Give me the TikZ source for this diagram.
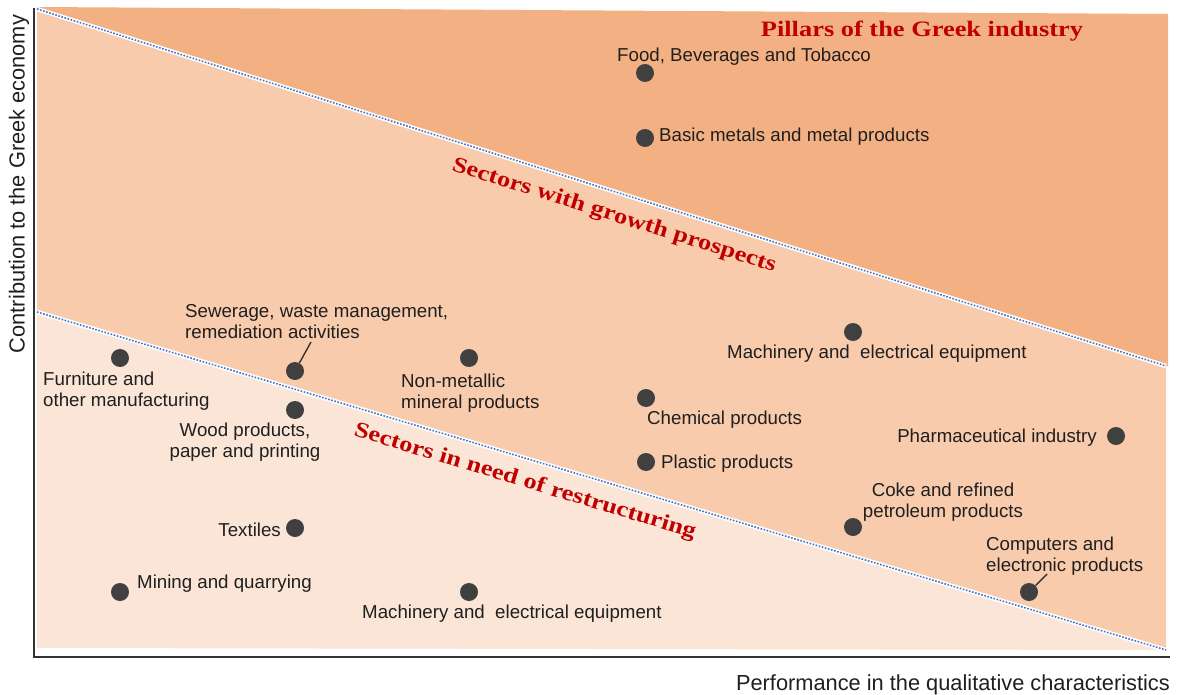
\documentclass[tikz,border=0pt]{standalone}
\usepackage{fontspec}
\setmainfont{Liberation Sans}
\newfontfamily\titleserif[FakeStretch=1.2]{Liberation Serif}

\definecolor{pillarband}{HTML}{F3B183}
\definecolor{growthband}{HTML}{F8CBAD}
\definecolor{restructband}{HTML}{FBE5D6}
\definecolor{zonered}{HTML}{C00000}
\definecolor{divblue}{HTML}{4472C4}
\definecolor{dotgray}{HTML}{404040}

\begin{document}
\begin{tikzpicture}[
    x=1pt, y=-1pt,
    sector/.style={circle, fill=dotgray, minimum size=18pt, inner sep=0pt},
    lbl/.style={inner sep=0pt, text=black!88, font=\fontsize{18.7}{21}\selectfont, align=left},
    zone/.style={inner sep=0pt, text=zonered, font=\titleserif\bfseries\fontsize{22}{26}\selectfont},
    axislbl/.style={inner sep=0pt, text=black!88, font=\fontsize{21.8}{25}\selectfont},
    divider/.style={white, line width=4.5pt},
    dividerdots/.style={divblue, line width=1.6pt, dash pattern=on 1.6pt off 1.6pt},
    leader/.style={black!80, line width=1.4pt} % kurze Verbindungslinie
]
\useasboundingbox (0,0) rectangle (1177,695);

% Eckpunkte der Zonen
\coordinate (tl) at (37,7);
\coordinate (tr) at (1168,14);
\coordinate (ul) at (37,9);
\coordinate (ur) at (1166,366);
\coordinate (ll) at (37,312);
\coordinate (lr) at (1166,650);
\coordinate (bl) at (37,648);

% Zonen
\fill[pillarband] (tl) -- (tr) -- (1168,366) -- (ur) -- (ul) -- cycle;
\fill[growthband] (ul) -- (ur) -- (lr) -- (ll) -- cycle;
\fill[restructband] (ll) -- (lr) -- (bl) -- cycle;

% Trennlinien (weiss mit blauen Punkten)
\draw[divider] (ul) -- (ur);
\draw[dividerdots] (ul) -- (ur);
\draw[divider] (ll) -- (lr);
\draw[dividerdots] (ll) -- (lr);

% Achsen
\draw[black!80, line width=1.5pt] (34,8) -- (34,657) -- (1170,657);

% Sektoren
\foreach \name/\px/\py in {food/645/73, basic/645/138, machup/853/332,
    pharma/1116/436, comp/1029/592, coke/853/527, plastic/646/462,
    chem/646/398, nonmet/469/358, sewer/295/371, wood/295/410,
    furn/120/358, textiles/295/528, mining/120/592, machlow/469/592} {
    \node[sector] (\name) at (\px,\py) {};
}

% Beschriftungen
\node[lbl, anchor=west] (foodlbl) at (617,57) {Food, Beverages and Tobacco};
\node[lbl, anchor=west] (basiclbl) at (659,137) {Basic metals and metal products};
\node[lbl, anchor=west] (machuplbl) at (727,354) {Machinery and\ \ electrical equipment};
\node[lbl, anchor=east] (pharmalbl) at (1097,438) {Pharmaceutical industry};
\node[lbl, anchor=west] (complbl) at (986,556) {Computers and\\electronic products};
\node[lbl, align=center] (cokelbl) at (943,502) {Coke and refined\\petroleum products};
\node[lbl, anchor=west] (plasticlbl) at (661,464) {Plastic products};
\node[lbl, anchor=west] (chemlbl) at (647,420) {Chemical products};
\node[lbl, anchor=west] (nonmetlbl) at (401,393) {Non-metallic\\mineral products};
\node[lbl, anchor=west] (sewerlbl) at (185,322) {Sewerage, waste management,\\remediation activities};
\node[lbl, align=center] (woodlbl) at (245,442) {Wood products,\\paper and printing};
\node[lbl, anchor=west] (furnlbl) at (43,391) {Furniture and\\other manufacturing};
\node[lbl, anchor=east] (textileslbl) at (281,530) {Textiles};
\node[lbl, anchor=west] (mininglbl) at (137,584) {Mining and quarrying};
\node[lbl, anchor=west] (machlowlbl) at (362,614) {Machinery and\ \ electrical equipment};

% Verbindungslinien
\coordinate (sewerend) at (311,342);
\coordinate (compend) at (1047,574);
\draw[leader] (sewer) -- (sewerend);
\draw[leader] (comp) -- (compend);

% Zonentitel
\node[zone] (pillars) at (922,31) {Pillars of the Greek industry};
\node[zone, rotate=-17.5] (growth) at (614,216) {Sectors with growth prospects};
\node[zone, rotate=-16.8] (restruct) at (525,482) {Sectors in need of restructuring};

% Achsentitel
\node[axislbl, rotate=90] (ytitle) at (19,184) {Contribution to the Greek economy};
\node[axislbl, anchor=east] (xtitle) at (1170,685) {Performance in the qualitative characteristics};

\end{tikzpicture}
\end{document}
